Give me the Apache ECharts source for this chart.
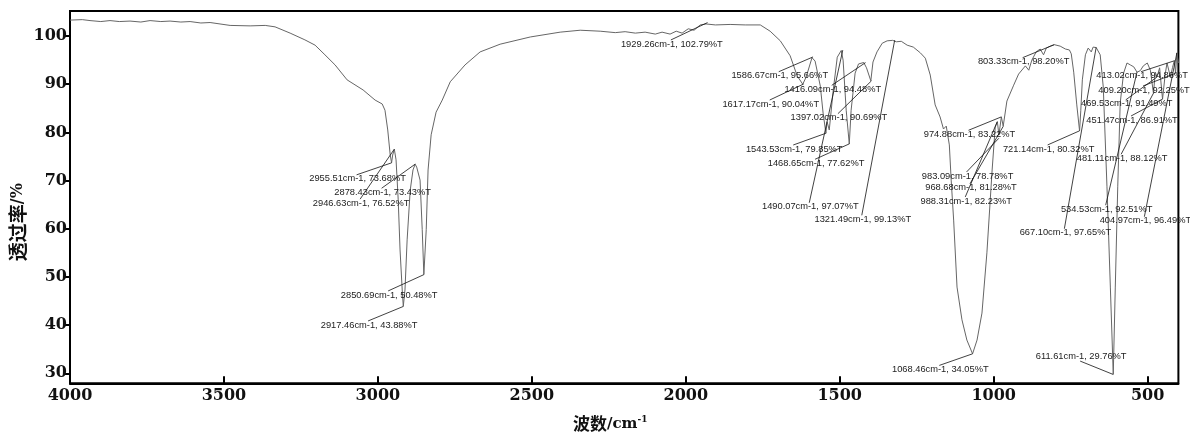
<!DOCTYPE html>
<html><head><meta charset="utf-8">
<script src="https://cdn.jsdelivr.net/npm/echarts@6/dist/echarts.min.js"></script>
<style>html,body{margin:0;padding:0;background:#fff}#c{width:1190px;height:434px}</style>
</head><body><div id="c"></div>
<script>
// ---- spectrum data (wavenumber cm-1, transmittance %T) ----
const wavenumber = [4000,3960,3935,3900,3870,3840,3805,3770,3740,3705,3675,3640,3610,3575,3545,3480,3415,3366,3334,3285,3237,3204,3172,3139,3100,3048,3009,2986,2977,2968,2960,2955.5,2952,2946.6,2941,2934,2928,2921,2917.5,2912,2905,2895,2886,2879,2874,2869,2863,2856,2850.7,2843,2837,2827,2811,2791,2765,2717,2668,2603,2505,2408,2343,2278,2229,2197,2164,2132,2099,2077,2051,2031,2012,1992,1973,1953,1934,1904,1856,1807,1758,1726,1693,1661,1638,1620,1609,1590,1580,1563,1554,1545,1541,1534,1521,1508,1495,1489,1479,1469,1463,1450,1439,1422,1413,1399,1392,1379,1362,1346,1328,1316,1300,1281,1261,1238,1222,1206,1190,1174,1163,1154,1144,1138,1130,1119,1103,1087,1068.5,1054,1038,1022,1005,995,988,983,975,969,957,935,919,897,886,876,862,849,838,829,816,803,784,767,754,748,740,730,721,717,712,702,693,683,677,667,661,654,644,632,621,611.6,605,597,589,578,567,556,545,534.5,524,514,501,491,481,475,469.5,461,451.5,443,437,426,419,413,409.2,405,400];
const transmittance = [103.3,103.4,103.2,103.0,103.2,103.0,103.1,102.9,103.2,103.0,103.1,102.9,103.0,102.7,102.8,102.2,102.1,102.2,101.9,100.6,99.2,98.1,96.1,94.0,90.9,88.8,86.7,85.9,84.6,80.5,75.3,73.7,75.3,76.5,74.3,66.0,55.6,47.3,43.9,47.3,57.7,68.0,72.2,73.4,72.8,73.2,70.1,59.8,50.5,59.8,72.2,79.5,84.2,86.7,90.5,94.0,96.7,98.3,99.8,100.8,101.2,101.0,100.7,100.9,100.6,100.8,100.4,100.8,100.4,101.0,100.6,101.5,101.2,102.3,102.5,102.3,102.4,102.3,102.3,101.0,99.0,95.9,91.7,90.0,91.5,95.5,94.8,89.6,84.0,79.9,82.2,80.5,88.8,95.6,97.0,95.0,84.6,77.6,84.6,92.3,94.2,94.5,93.4,90.7,94.6,96.7,98.5,99.0,99.1,98.8,98.9,98.1,97.7,96.5,95.4,91.9,85.7,83.2,80.7,81.3,77.4,70.1,61.8,47.9,41.1,36.9,34.05,36.9,42.5,55.0,72.2,81.1,82.2,79.5,83.2,81.3,86.5,89.8,92.1,93.8,92.9,95.0,96.7,97.3,96.1,97.5,97.9,98.2,97.9,97.3,97.1,96.3,92.5,85.7,80.3,84.6,90.9,96.1,97.5,96.7,97.7,97.6,97.9,96.1,89.4,68.7,47.9,29.8,47.9,68.7,86.1,92.3,94.4,94.0,93.6,92.5,92.8,93.8,94.4,92.9,88.1,92.5,91.5,93.4,86.9,92.0,94.4,91.5,93.5,94.9,92.3,96.5,94.4];

// ---- peak annotations ----
const peakWavenumber = [2955.51,2878.43,2946.63,2850.69,2917.46,1929.26,1586.67,1416.09,1617.17,1397.02,1543.53,1468.65,1490.07,1321.49,803.33,974.88,983.09,968.68,988.31,721.14,667.10,413.02,409.20,469.53,451.47,481.11,534.53,404.97,1068.46,611.61];
const peakTransmittance = [73.68,73.43,76.52,50.48,43.88,102.79,95.66,94.48,90.04,90.69,79.85,77.62,97.07,99.13,98.20,83.22,78.78,81.28,82.23,80.32,97.65,94.86,92.25,91.49,86.91,88.12,92.51,96.49,34.05,29.76];
// label offsets from the peak (pixels) — layout only
const labelDx = [-34,-32.7,-33.2,-34.7,-34.2,-35.7,-33.3,-32.8,-32.9,-32.5,-32.1,-33.3,-32.5,-31.9,-30.6,-31.9,-31.3,-32.3,-31,-30.9,-30.8,-32.3,-31.5,-30.3,-30.5,-31.3,-30.3,-31.5,-32.3,-32.1];
const labelDy = [16,28.2,54,20.3,18.5,21.4,18.8,26.7,20,36.8,15.9,19.4,156.6,179.1,17,17.4,37.7,61.5,79.3,18.1,185.4,14.9,16.6,26.9,20.9,65,137.1,167.8,15.6,-18.4];

// ---- axis ticks ----
const xTickValues = [4000,3500,3000,2500,2000,1500,1000,500];
const yTickValues = [30,40,50,60,70,80,90,100];

const spectrum = wavenumber.map((w, i) => [w, transmittance[i]]);
const peaks = peakWavenumber.map((w, i) => [w, peakTransmittance[i], i]);

const chart = echarts.init(document.getElementById('c'), null, {renderer: 'canvas'});
const tickFont = {fontFamily: 'DejaVu Serif', fontWeight: 'bold', fontSize: 16, color: '#111'};

chart.setOption({
  animation: false,
  backgroundColor: '#fff',
  grid: {left: 70, right: 11.6, top: 11, bottom: 50.7, show: true, borderColor: '#000', borderWidth: 2, containLabel: false, outerBoundsMode: 'none'},
  xAxis: {
    type: 'value', inverse: true, min: 400, max: 4000, splitNumber: 7,
    name: '{cjk|波数}/cm{sup|-1}', nameLocation: 'middle', nameGap: 32,
    nameTextStyle: {fontFamily: 'DejaVu Serif', fontWeight: 'bold', fontSize: 15, color: '#111', padding: [0, 28, 0, 0],
      rich: {
        cjk: {fontFamily: 'Noto Sans CJK SC', fontWeight: 'bold', fontSize: 17, color: '#111'},
        sup: {fontSize: 9, fontFamily: 'DejaVu Serif', fontWeight: 'bold', color: '#111', verticalAlign: 'top', padding: [0,0,8,0]}
      }},
    axisLine: {show: true, lineStyle: {color: '#000', width: 2}},
    axisTick: {show: true, inside: true, length: 7, lineStyle: {color: '#000', width: 2}},
    axisLabel: Object.assign({margin: 5, showMinLabel: false, formatter: v => xTickValues.includes(v) ? String(v) : ''}, tickFont),
    splitLine: {show: false}
  },
  yAxis: {
    type: 'value', min: 27.93, max: 105.19, splitNumber: 8,
    name: '{cjk|透过率}/%', nameLocation: 'middle', nameGap: 43, nameRotate: 90, nameMoveOverlap: false,
    nameTextStyle: {fontFamily: 'DejaVu Serif', fontWeight: 'bold', fontSize: 16, color: '#111', padding: [0, 50, 0, 0],
      rich: {cjk: {fontFamily: 'Noto Sans CJK SC', fontWeight: 'bold', fontSize: 19, color: '#111'}}},
    axisLine: {show: true, lineStyle: {color: '#000', width: 2}},
    axisTick: {show: true, inside: false, length: 5, lineStyle: {color: '#000', width: 2}},
    axisLabel: Object.assign({margin: 3, showMinLabel: false, showMaxLabel: false, formatter: v => yTickValues.includes(Math.round(v*100)/100) ? String(v) : ''}, tickFont),
    splitLine: {show: false}
  },
  series: [
    {
      type: 'line', data: spectrum, showSymbol: false, symbol: 'none',
      lineStyle: {color: '#666', width: 1}, z: 2, silent: true
    },
    {
      type: 'custom', data: peaks, clip: false, z: 3, silent: true,
      renderItem: function (params, api) {
        const i = api.value(2);
        const p = api.coord([api.value(0), api.value(1)]);
        const tx = p[0] + labelDx[i];
        const ty = p[1] + labelDy[i];
        const ly = labelDy[i] > 0 ? ty - 4 : ty + 5;
        const txt = peakWavenumber[i].toFixed(2) + 'cm-1, ' + peakTransmittance[i].toFixed(2) + '%T';
        return {
          type: 'group',
          children: [
            {type: 'line', shape: {x1: p[0], y1: p[1], x2: tx - 1, y2: ly}, style: {stroke: '#111', lineWidth: 0.8}},
            {type: 'text', x: tx, y: ty, style: {text: txt, fontFamily: 'Liberation Sans', fontSize: 9.3, fill: '#222', align: 'center', verticalAlign: 'middle'}}
          ]
        };
      }
    }
  ]
});
</script>
</body></html>
